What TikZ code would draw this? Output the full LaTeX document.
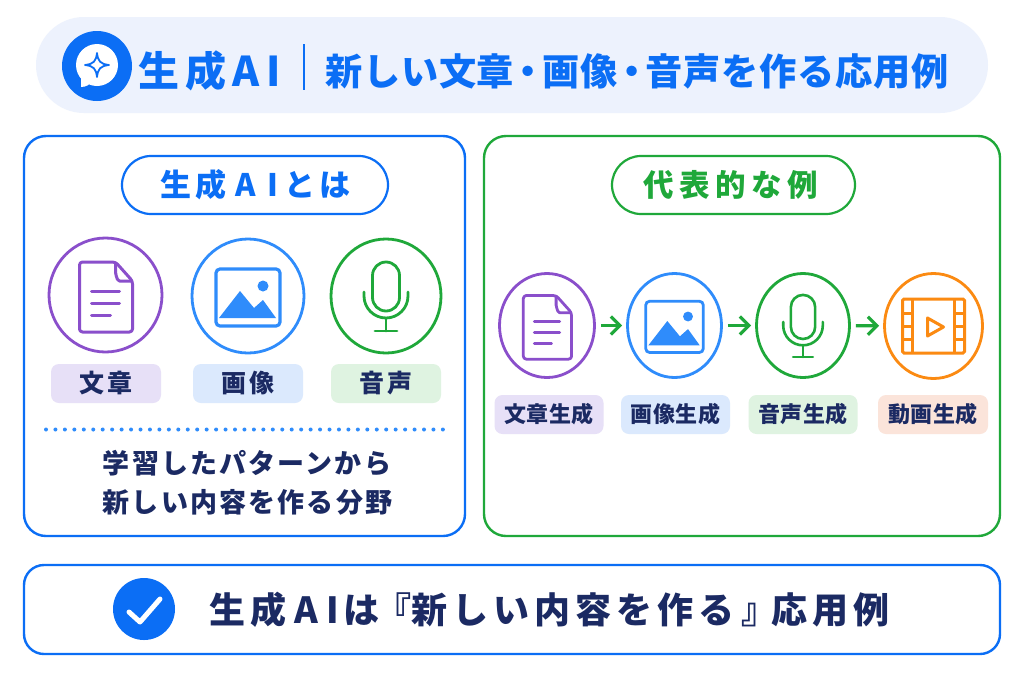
\documentclass[tikz,border=0pt]{standalone}
\usepackage{fontspec}
\setmainfont{Noto Sans CJK JP}
\usetikzlibrary{arrows.meta,shapes.geometric}
\definecolor{bluemain}{HTML}{0B6EF5}
\definecolor{bluesoft}{HTML}{2F8CFB}
\definecolor{navy}{HTML}{1B2A63}
\definecolor{purp}{HTML}{8A4FCB}
\definecolor{grn}{HTML}{1FA83A}
\definecolor{org}{HTML}{FB8A12}
\definecolor{headbg}{HTML}{EDF2FD}
\definecolor{lpurp}{HTML}{E7E0F7}
\definecolor{lblue}{HTML}{DBE9FD}
\definecolor{lgrn}{HTML}{DFF3E1}
\definecolor{lorg}{HTML}{FBE4DA}
\newfontfamily\spTwo{Noto Sans CJK JP}[LetterSpace=2]
\newfontfamily\spEight{Noto Sans CJK JP}[LetterSpace=8]
\newfontfamily\spEleven{Noto Sans CJK JP}[LetterSpace=11]
\newfontfamily\spTwelve{Noto Sans CJK JP}[LetterSpace=12]
\newfontfamily\spFourteen{Noto Sans CJK JP}[LetterSpace=14]
\newfontfamily\spEighteen{Noto Sans CJK JP}[LetterSpace=18]
\newcommand{\tdot}{\kern-.12em・\kern-.12em}
\tikzset{
  x=1pt,y=-1pt,
  panel/.style={draw,line width=2.4pt,rounded corners=22pt,fill=white},
  capsule/.style={draw,line width=2.2pt,fill=white,rounded corners=29pt,minimum height=58pt,text=bluemain,inner sep=0pt},
  ring/.style={ellipse,draw,fill=white,line width=2.8pt,inner sep=0pt},
  tag/.style={rounded corners=8pt,minimum height=39pt,inner sep=0pt,text=navy},
  tagA/.style={tag,minimum width=110pt,font=\spEleven\bfseries\fontsize{25}{28}\selectfont},
  tagB/.style={tag,minimum width=109pt,font=\spTwo\bfseries\fontsize{22}{26}\selectfont},
  txt/.style={text=navy,inner sep=0pt,font=\spEight\bfseries\fontsize{27}{32}\selectfont},
  flow/.style={draw=grn,line width=3.2pt,-{Straight Barb[length=9pt,width=18pt,line width=3.2pt]},shorten <=5pt,shorten >=4pt},
  pics/docicon/.style={code={
    \draw[purp,line width=#1,line join=round,rounded corners=3pt] (-26,-33)--(10,-33)--(27,-14)--(27,37)--(-26,37)--cycle;
    \draw[purp,line width=#1,line join=round] (10,-33)--(10,-22) to[out=90,in=180] (14,-14) -- (27,-14);
    \draw[purp,line width=#1,line cap=round] (-14,-4)--(14,-4) (-14,8)--(14,8) (-14,20)--(5,20);
  }},
  pics/imgicon/.style={code={
    \draw[bluesoft,line width=#1,rounded corners=4pt] (-32,-27)rectangle(32,30);
    \fill[bluesoft,line join=round] (-29,22)--(-8,-5)--(6,12)--(15,4)--(28,22)--cycle;
    \fill[bluesoft] (15,-10) circle (5.5);
  }},
  pics/micicon/.style={code={
    \draw[grn,line width=#1] (-13.5,-20.5) arc[start angle=180,end angle=360,radius=13.5] -- (13.5,1.5) arc[start angle=0,end angle=180,radius=13.5] -- cycle;
    \draw[grn,line width=#1,line cap=round] (-22,-4)--(-22,0) arc[start angle=180,end angle=0,radius=22] -- (22,-4);
    \draw[grn,line width=#1,line cap=round] (0,22)--(0,35) (-11,35)--(11,35);
  }},
  pics/filmicon/.style={code={
    \draw[org,line width=#1,rounded corners=1.5pt] (-31,-27)rectangle(31,27);
    \draw[org,line width=#1] (-21,-27)--(-21,27) (21,-27)--(21,27);
    \draw[org,line width=#1] (-31,-13)--(-21,-13) (-31,0)--(-21,0) (-31,13)--(-21,13) (31,-13)--(21,-13) (31,0)--(21,0) (31,13)--(21,13);
    \draw[org,line width=#1,line join=round] (-6,-8)--(-6,10)--(10,1)--cycle;
  }},
}
\begin{document}
\begin{tikzpicture}
\useasboundingbox (0,0) rectangle (1024,683);
\fill[white] (0,0) rectangle (1024,683);
% header
\node[fill=headbg,rounded corners=48pt,minimum width=952pt,minimum height=96pt,inner sep=0pt] (head) at (512,65) {};
\node[circle,fill=bluemain,minimum size=70pt,inner sep=0pt] (headicon) at (97,66) {};
\fill[white] (97,65) circle (21);
\fill[white,line join=round] (81,72)--(81,87) to[out=0,in=-110] (92,80)--cycle;
\draw[bluemain,line width=1.8pt,line join=round] (97,53) .. controls (98,61) and (100,64) .. (109,65) .. controls (100,66) and (98,69) .. (97,77) .. controls (96,69) and (94,66) .. (85,65) .. controls (94,64) and (96,61) .. (97,53) -- cycle;
\node[anchor=west,inner sep=0pt,text=bluemain,font=\spFourteen\bfseries\fontsize{41}{48}\selectfont] (titleA) at (138.5,71) {生成A\kern.18em I};
\node[minimum width=2.4pt,minimum height=46pt,fill=bluemain,inner sep=0pt] (divider) at (304,67) {};
\node[anchor=west,inner sep=0pt,text=bluemain,font=\spTwo\bfseries\fontsize{37.2}{44}\selectfont] (titleB) at (325,71) {新しい文章\tdot 画像\tdot 音声を作る応用例};
% panels
\draw[panel,draw=bluemain] (24,136) rectangle (465,536);
\draw[panel,draw=grn] (484,136) rectangle (1000,536);
\draw[panel,draw=bluemain,rounded corners=20pt] (24,565) rectangle (1000,654);
% capsules
\node[capsule,draw=bluemain,minimum width=266pt,font=\spTwelve\bfseries\fontsize{31}{36}\selectfont] (capL) at (255,185) {\hspace{1pt}生成\kern.3em A\kern.35em I\kern.2em とは};
\node[capsule,draw=grn,text=grn,minimum width=243pt,font=\spEighteen\bfseries\fontsize{30.5}{36}\selectfont] (capR) at (733.5,185) {代表的な例\kern5pt};
% left rings
\node[ring,draw=purp,minimum width=113pt,minimum height=114pt] (lc1) at (105.5,295) {};
\node[ring,draw=bluesoft,minimum width=112pt,minimum height=114pt] (lc2) at (248,296) {};
\node[ring,draw=grn,minimum width=110pt,minimum height=114pt] (lc3) at (386,296) {};
\pic at (lc1.center) {docicon=3pt};
\pic at (lc2.center) {imgicon=3.2pt};
\pic at (lc3.center) {micicon=2.8pt};
\node[tagA,fill=lpurp] (lt1) at (106,383.5) {文章};
\node[tagA,fill=lblue] (lt2) at (248,383.5) {画像};
\node[tagA,fill=lgrn] (lt3) at (386,383.5) {音声};
\coordinate (dotA) at (46,429.5);
\coordinate (dotB) at (444,429.5);
\draw[bluesoft,line width=4pt,line cap=round,dash pattern=on 0pt off 9.45pt] (dotA) -- (dotB);
\node[txt] (lx1) at (247,463) {学習したパターンから};
\node[txt] (lx2) at (247.5,502) {新しい内容を作る分野};
% right rings
\node[ring,draw=purp,minimum width=95pt,minimum height=104pt] (rc1) at (547,325.5) {};
\node[ring,draw=bluesoft,minimum width=94pt,minimum height=104pt] (rc2) at (674.5,325.5) {};
\node[ring,draw=grn,minimum width=93pt,minimum height=104pt] (rc3) at (803,325.5) {};
\node[ring,draw=org,minimum width=98pt,minimum height=105pt] (rc4) at (933.5,326) {};
\pic[scale=.91] at (rc1.center) {docicon=2.8pt};
\pic[scale=.9] at (rc2.center) {imgicon=2.8pt};
\pic[scale=.9] at (rc3.center) {micicon=2.6pt};
\pic at (rc4.center) {filmicon=3pt};
\draw[flow] (rc1) -- (rc2);
\draw[flow] (rc2) -- (rc3);
\draw[flow] (rc3) -- (rc4);
\node[tagB,fill=lpurp] (rt1) at (549,414.5) {文章生成};
\node[tagB,fill=lblue] (rt2) at (675.5,414.5) {画像生成};
\node[tagB,fill=lgrn] (rt3) at (803,414.5) {音声生成};
\node[tagB,fill=lorg,minimum width=110pt] (rt4) at (933,414.5) {動画生成};
% bottom
\node[circle,fill=bluemain,minimum size=62pt,inner sep=0pt] (check) at (144,609) {};
\draw[white,line width=5pt,line cap=round,line join=round] (129,612)--(140,622)--(160,599);
\node[txt,anchor=west,font=\spFourteen\bfseries\fontsize{36}{42}\selectfont] (bottom) at (209.5,610) {生成\kern.22em A\kern.22em Iは\kern-4pt『\kern-1pt新しい内容を作る\kern7pt』\kern-6pt応用例};
\end{tikzpicture}
\end{document}
